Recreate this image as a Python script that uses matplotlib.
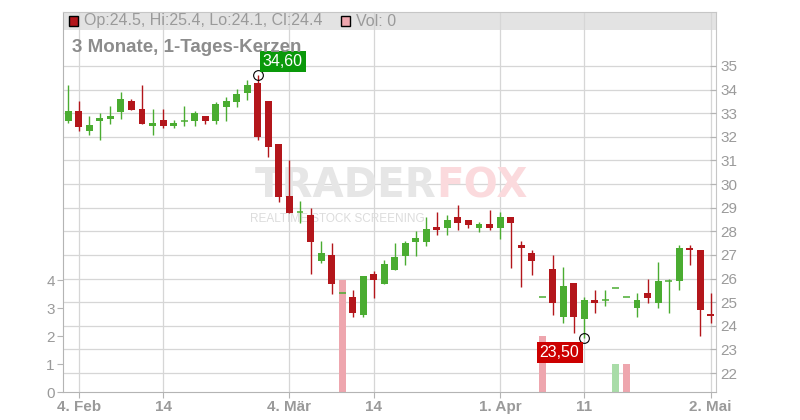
import numpy as np
import matplotlib
matplotlib.use("Agg")
import matplotlib.pyplot as plt
from matplotlib.patches import Rectangle

plt.rcParams['font.family'] = ['Liberation Sans', 'DejaVu Sans']

# daily candles, 1 Feb - 2 May (trading days only)
opens = [32.67, 33.10, 32.26, 32.67, 32.77, 33.07, 33.50, 33.18, 32.47, 32.71,
         32.47, 32.68, 32.67, 32.88, 32.67, 33.26, 33.49, 33.87, 34.27, 33.52,
         31.70, 29.50, 28.78, 28.69, 26.74, 27.00, 25.38, 25.22, 24.46, 26.19,
         25.78, 26.38, 26.97, 27.55, 27.56, 28.18, 28.16, 28.60, 28.48, 28.16,
         28.32, 28.16, 28.60, 27.42, 27.10, 25.20, 26.41, 24.38, 25.80, 24.27,
         25.10, 25.07, 25.59, 25.20, 24.76, 25.38, 24.98, 25.88, 25.88, 27.30,
         27.20, 24.50]
highs = [34.20, 33.52, 32.88, 33.02, 33.30, 33.90, 33.60, 34.20, 33.17, 33.18,
         32.71, 33.30, 33.08, 32.88, 33.49, 33.70, 34.01, 34.40, 34.60, 33.52,
         31.70, 31.02, 29.28, 28.97, 27.59, 27.50, 25.38, 25.52, 26.11, 26.33,
         26.79, 27.50, 27.59, 28.03, 28.60, 28.82, 28.71, 29.12, 28.48, 28.39,
         28.90, 28.81, 28.60, 27.59, 27.20, 25.20, 27.00, 26.47, 25.80, 25.20,
         25.53, 25.53, 25.59, 25.20, 25.38, 26.00, 26.70, 25.98, 27.42, 27.42,
         27.20, 25.40]
lows = [32.57, 32.25, 32.09, 31.87, 32.56, 32.77, 33.14, 32.56, 32.09, 32.39,
        32.39, 32.47, 32.47, 32.56, 32.56, 32.67, 33.28, 33.57, 31.87, 31.16,
        29.26, 28.79, 28.37, 26.18, 26.67, 25.36, 25.38, 24.38, 24.38, 25.19,
        25.78, 26.38, 26.59, 26.97, 27.39, 27.86, 27.86, 28.07, 28.16, 27.99,
        28.05, 27.68, 26.46, 25.66, 26.15, 25.20, 24.47, 24.10, 23.68, 23.50,
        24.55, 24.85, 25.59, 25.20, 24.38, 24.98, 24.76, 24.55, 25.50, 26.59,
        23.55, 24.10]
closes = [33.10, 32.40, 32.50, 32.80, 32.90, 33.60, 33.14, 32.56, 32.59, 32.47,
          32.60, 32.70, 33.00, 32.67, 33.39, 33.52, 33.83, 34.20, 31.98, 31.58,
          29.47, 28.79, 28.82, 27.56, 27.10, 25.78, 25.38, 24.55, 26.11, 25.95,
          26.62, 26.91, 27.50, 27.72, 28.09, 28.07, 28.48, 28.37, 28.28, 28.30,
          28.15, 28.60, 28.37, 27.28, 26.76, 25.20, 24.98, 25.67, 24.38, 25.08,
          24.98, 25.09, 25.59, 25.20, 25.08, 25.19, 25.90, 25.90, 27.30, 27.19,
          24.68, 24.40]
volumes = [0, 0, 0, 0, 0, 0, 0, 0, 0, 0, 0, 0, 0, 0, 0, 0, 0, 0, 0, 0,
           0, 0, 0, 0, 0, 0, 4, 0, 0, 0, 0, 0, 0, 0, 0, 0, 0, 0, 0, 0,
           0, 0, 0, 0, 0, 2, 0, 0, 0, 0, 0, 0, 1, 1, 0, 0, 0, 0, 0, 0,
           0, 0]
tick_idx = [1, 9, 21, 29, 41, 49, 61]
tick_labels = ["4. Feb", "14", "4. Mär", "14", "1. Apr", "11", "2. Mai"]
price_ticks = list(range(22, 36))
vol_ticks = [0, 1, 2, 3, 4]

RED = '#b3161b'
GREEN = '#4aac31'
GRID = '#d6d6d6'
AX = '#b4b4b4'
TXT = '#9a9a9a'

o = np.array(opens); h = np.array(highs); l = np.array(lows); c = np.array(closes)
x = np.arange(len(o))
up = c >= o
col = np.where(up, GREEN, RED)

W, H = 800, 420
fig = plt.figure(figsize=(8, 4.2), dpi=100)
def fx(px): return px / W
def fy(py): return 1 - py / H

L, R, T, B = 63, 716, 11.5, 392
ax_v = fig.add_axes([fx(L), fy(B), (R - L) / W, (B - T) / H])
ax_p = ax_v.twinx()

ax_v.set_xlim(-0.5, len(x) - 0.5)
ax_p.set_ylim(21.196, 37.307)
ax_v.set_ylim(0, 13.59)

# header band
ax_v.add_patch(Rectangle((0, 1 - 18.5 / (B - T)), 1, 18.5 / (B - T), transform=ax_v.transAxes,
                         facecolor='#e3e3e3', edgecolor='none', zorder=0.3))
# grid
for t in tick_idx:
    ax_v.axvline(t, color=GRID, lw=0.9, zorder=0.6)
ax_v.hlines(price_ticks, -0.5, len(x) - 0.5, colors=GRID, lw=0.9, zorder=0.6,
            transform=ax_p.transData)

# watermark
ax_v.text(fx(436), fy(186), "TRADER", transform=fig.transFigure, ha='right', va='center',
          fontsize=29, fontweight='bold', family='DejaVu Sans', color='#e6e6e6', zorder=0.7)
ax_v.text(fx(436), fy(186), "FOX", transform=fig.transFigure, ha='left', va='center',
          fontsize=29, fontweight='bold', family='DejaVu Sans', color='#fbdadd', zorder=0.7)
ax_v.text(fx(250), fy(219), "REALTIME STOCK SCREENING", transform=fig.transFigure,
          ha='left', va='center', fontsize=8.5, color='#dcdcdc', zorder=0.7)

# volume, coloured by change against previous close
vcol = [GREEN if i > 0 and c[i] >= c[i - 1] else RED for i in x]
vcol = ['#a9dca8' if v == GREEN else '#eea6ae' for v in vcol]
ax_v.bar(x, volumes, width=0.66, color=vcol, zorder=1)

# candles
ax_p.vlines(x, l, h, colors=col, lw=1.0, zorder=2)
body = np.abs(c - o)
flat = body < 0.05
ax_p.bar(x[~flat], body[~flat], bottom=np.minimum(o, c)[~flat], width=0.66,
         color=col[~flat], zorder=3)
ax_p.hlines(((o + c) / 2)[flat], x[flat] - 0.33, x[flat] + 0.33, colors=col[flat],
            lw=1.1, zorder=3)

# high / low markers
ih = int(np.argmax(h)); il = int(np.argmin(l))
ax_p.plot([ih, il], [h[ih], l[il]], 'o', ms=7, mfc='none', mec='black', mew=0.8, zorder=5)
ax_p.annotate(f"{h[ih]:.2f}".replace('.', ','), (ih, h[ih]), xytext=(3.5, 4.5),
              textcoords='offset points', ha='left', va='bottom', color='white', fontsize=11.5,
              bbox=dict(boxstyle='square,pad=0.2', fc='#0a990a', ec='none'), zorder=6)
ax_p.annotate(f"{l[il]:.2f}".replace('.', ','), (il, l[il]), xytext=(-3.5, -5.5),
              textcoords='offset points', ha='right', va='top', color='white', fontsize=11.5,
              bbox=dict(boxstyle='square,pad=0.2', fc='#cc0000', ec='none'), zorder=6)

# axes styling
ax_v.set_facecolor('white')
for s in ax_p.spines.values():
    s.set_visible(False)
ax_v.spines['left'].set_color(AX)
ax_v.spines['bottom'].set_color(AX)
ax_v.spines['top'].set_color('#c6c6c6')
ax_v.spines['right'].set_color('#c6c6c6')

ax_p.set_yticks(price_ticks)
ax_p.tick_params(axis='y', direction='in', length=4, color=AX, labelcolor=TXT,
                 labelsize=11, pad=3)
ax_v.set_yticks(vol_ticks)
ax_v.tick_params(axis='y', direction='out', length=4, color=AX, labelcolor=TXT,
                 labelsize=11, pad=2)
ax_v.set_xticks(tick_idx)
ax_v.set_xticklabels(tick_labels, fontweight='bold')
ax_v.tick_params(axis='x', direction='out', length=4, color=AX, labelcolor=TXT,
                 labelsize=11, pad=2)

# header legend
fig.add_artist(Rectangle((fx(69), fy(26)), 9 / W, 10 / H, transform=fig.transFigure,
                         facecolor=RED, edgecolor='black', lw=1))
fig.text(fx(84), fy(21), f"Op:{o[-1]:.1f}, Hi:{h[-1]:.1f}, Lo:{l[-1]:.1f}, Cl:{c[-1]:.1f}",
         ha='left', va='center', fontsize=11.5, color=TXT)
fig.add_artist(Rectangle((fx(341), fy(26)), 9 / W, 10 / H, transform=fig.transFigure,
                         facecolor='#eea6ae', edgecolor='black', lw=1))
fig.text(fx(356), fy(21), f"Vol: {volumes[-1]}", ha='left', va='center', fontsize=11.5, color=TXT)
fig.text(fx(72), fy(47), "3 Monate, 1-Tages-Kerzen", ha='left', va='center',
         fontsize=13.5, fontweight='bold', color='#8c8c8c')

fig.savefig("out.png", dpi=100)
